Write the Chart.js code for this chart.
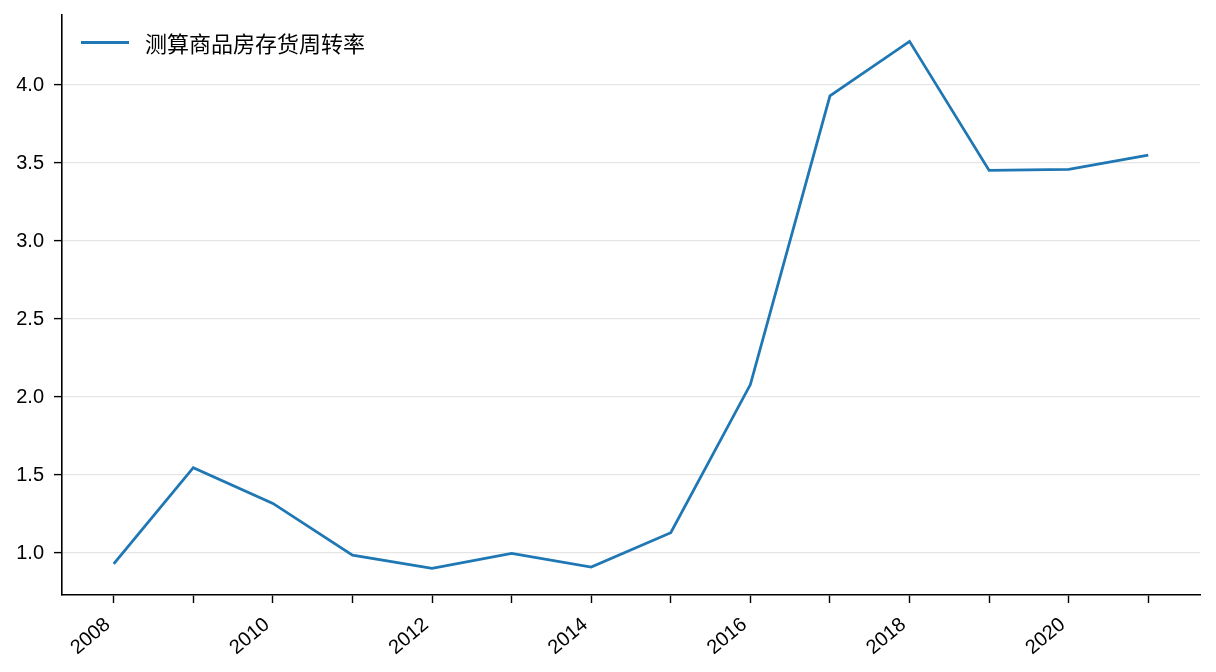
<!DOCTYPE html>
<html>
<head>
<meta charset="utf-8">
<script src="https://cdn.jsdelivr.net/npm/chart.js@4.4.0/dist/chart.umd.min.js"></script>
<style>
html,body{margin:0;padding:0;background:#fff;}
#wrap{width:1216px;height:672px;position:relative;}
</style>
</head>
<body>
<div id="wrap"><canvas id="c" width="1216" height="672"></canvas></div>
<script>
const years = [2008,2009,2010,2011,2012,2013,2014,2015,2016,2017,2018,2019,2020,2021];
const turnover = [0.93,1.547,1.318,0.987,0.902,0.998,0.91,1.13,2.08,3.93,4.28,3.453,3.46,3.55];
const seriesLabel = '测算商品房存货周转率';
const yTicks = [1.0,1.5,2.0,2.5,3.0,3.5,4.0];
const xTicks = years;

const legendInside = {
  id:'legendInside',
  afterDraw(chart){
    const ctx = chart.ctx;
    const ds = chart.data.datasets[0];
    ctx.save();
    ctx.strokeStyle = ds.borderColor;
    ctx.lineWidth = 3;
    ctx.beginPath();
    ctx.moveTo(81,42.5); ctx.lineTo(129,42.5);
    ctx.stroke();
    ctx.fillStyle = '#000';
    ctx.font = '22px "Noto Sans CJK SC"';
    ctx.textBaseline = 'middle';
    ctx.fillText(ds.label, 145, 44);
    ctx.restore();
  }
};

new Chart(document.getElementById('c'), {
  type:'line',
  data:{
    datasets:[{
      label: seriesLabel,
      data: years.map((y,i)=>({x:y,y:turnover[i]})),
      borderColor:'#1f77b4',
      borderWidth:2.8,
      pointRadius:0,
      tension:0,
      fill:false
    }]
  },
  options:{
    responsive:false,
    animation:false,
    devicePixelRatio:1,
    layout:{padding:{top:15,right:16,left:0,bottom:0}},
    plugins:{legend:{display:false},tooltip:{enabled:false}},
    scales:{
      x:{
        type:'linear',
        min:2007.35,
        max:2021.65,
        afterBuildTicks(s){ s.ticks = xTicks.map(v=>({value:v})); },
        afterFit(s){ s.height = 77; s.paddingLeft = 0; s.paddingRight = 0; },
        border:{display:true,color:'#000',width:1.6},
        grid:{display:true,drawOnChartArea:false,drawTicks:true,tickLength:8,tickColor:'#000',tickWidth:1.4},
        ticks:{
          autoSkip:false,
          minRotation:40,maxRotation:40,
          padding:10,
          labelOffset:-6,
          color:'#000',
          font:{family:'"Liberation Sans", Arial, sans-serif',size:20},
          callback:(v)=> (v%2===0 ? String(v) : '')
        }
      },
      y:{
        type:'linear',
        min:0.731,
        max:4.449,
        afterBuildTicks(s){ s.ticks = yTicks.map(v=>({value:v})); },
        afterFit(s){ s.width = 62; s.paddingTop = 0; s.paddingBottom = 0; },
        border:{display:true,color:'#000',width:1.6},
        grid:{display:true,drawOnChartArea:true,color:'#e5e5e5',lineWidth:1.2,drawTicks:true,tickLength:8,tickColor:'#000',tickWidth:1.4},
        ticks:{
          padding:10,
          color:'#000',
          font:{family:'"Liberation Sans", Arial, sans-serif',size:20},
          callback:(v)=> Number(v).toFixed(1)
        }
      }
    }
  },
  plugins:[legendInside]
});
</script>
</body>
</html>
